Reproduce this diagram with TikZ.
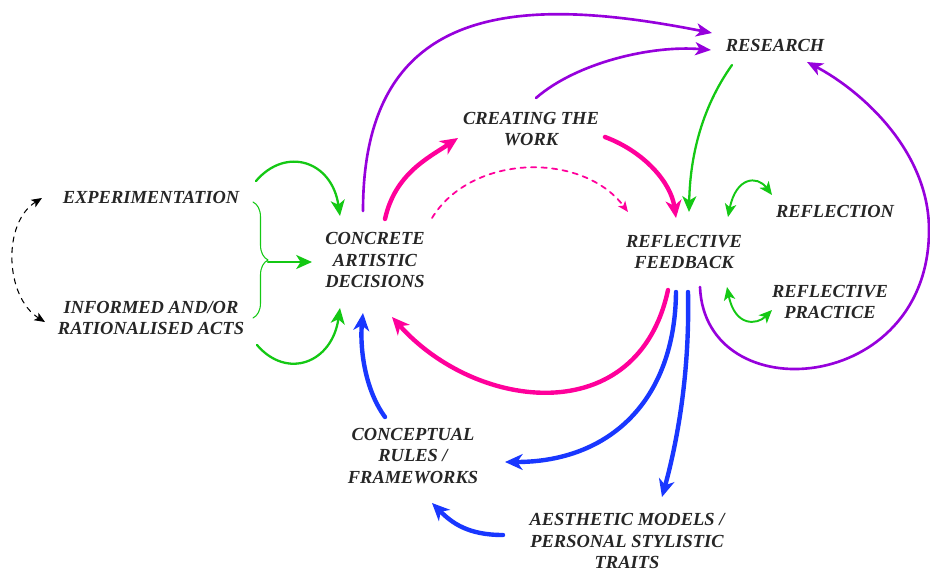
\documentclass[tikz,border=0pt]{standalone}
\usepackage{fontspec}
\setmainfont{Liberation Serif}
\usetikzlibrary{arrows.meta,decorations.pathreplacing}
\definecolor{grn}{RGB}{20,200,20}
\definecolor{mgt}{RGB}{255,0,155}
\definecolor{prp}{RGB}{150,0,220}
\definecolor{blu}{RGB}{25,55,255}

\begin{document}
\begin{tikzpicture}[line cap=round,line join=round,x=0.02cm,y=-0.02cm,
    lbl/.style={font=\fontsize{10.5}{12}\selectfont\bfseries\itshape,text=black!85,align=center,inner sep=0pt},
    garr/.style={grn,line width=1.3pt,-{Stealth[length=9pt,width=8pt,inset=2.5pt]}},
    gboth/.style={grn,line width=1.1pt,{Stealth[length=7.5pt,width=6.5pt,inset=2pt]}-{Stealth[length=7.5pt,width=6.5pt,inset=2pt]}},
    marr/.style={mgt,line width=2.5pt,-{Stealth[length=10pt,width=9pt,inset=3pt]}},
    parr/.style={prp,line width=1.5pt,-{Stealth[length=9pt,width=7.5pt,inset=2.5pt]}},
    barr/.style={blu,line width=2.5pt,-{Stealth[length=10pt,width=9pt,inset=3pt]}}]
  \useasboundingbox (0,0) rectangle (930,572);

  \node[lbl] (exp) at (151,197) {EXPERIMENTATION};
  \node[lbl] (inf) at (151,318) {INFORMED AND/OR\\RATIONALISED ACTS};
  \node[lbl] (cad) at (375,260) {CONCRETE\\ARTISTIC\\DECISIONS};
  \node[lbl] (ctw) at (531,129) {CREATING THE\\WORK};
  \node[lbl] (res) at (775,45) {RESEARCH};
  \node[lbl] (rfb) at (684,252) {REFLECTIVE\\FEEDBACK};
  \node[lbl] (rfl) at (835,211) {REFLECTION};
  \node[lbl] (rfp) at (830,302) {REFLECTIVE\\PRACTICE};
  \node[lbl] (crf) at (413,456) {CONCEPTUAL\\RULES /\\FRAMEWORKS};
  \node[lbl] (amp) at (627,541) {AESTHETIC MODELS /\\PERSONAL STYLISTIC\\TRAITS};

  % left side
  \draw[black,line width=0.6pt,dash pattern=on 3pt off 3pt,{Stealth[length=6pt,width=5pt,inset=1.5pt]}-{Stealth[length=6pt,width=5pt,inset=1.5pt]}]
    ([shift={(-109,1)}]exp.center) .. controls +(-40,25) and +(-40,-25) .. ([shift={(-106,4)}]inf.center);
  \draw[grn,line width=0.6pt,decorate,decoration={brace,amplitude=0.3cm}]
    ([shift={(102,5)}]exp.center) -- ([shift={(102,0)}]inf.center);
  \coordinate (bt) at (268,262);
  \draw[garr] (bt) -- ([shift={(-63,2)}]cad.center);
  \draw[garr] ([shift={(105,-16)}]exp.center) .. controls +(30,-35) and +(-8,-55) .. ([shift={(-35,-44)}]cad.center);
  \draw[garr] ([shift={(106,27)}]inf.center) .. controls +(30,35) and +(-8,55) .. ([shift={(-35,48)}]cad.center);

  % magenta
  \draw[marr] ([shift={(10,-41)}]cad.center) .. controls +(10,-45) and +(-30,20) .. ([shift={(-73,9)}]ctw.center);
  \draw[marr] ([shift={(74,8)}]ctw.center) .. controls +(40,15) and +(-5,-35) .. ([shift={(-8,-34)}]rfb.center);
  \draw[mgt,line width=1pt,dash pattern=on 3pt off 3pt,-{Stealth[length=6pt,width=5pt,inset=1.5pt]}]
    ([shift={(57,-42)}]cad.center) .. controls +(40,-65) and +(-45,-60) .. ([shift={(-56,-40)}]rfb.center);
  \draw[marr] ([shift={(-16,38)}]rfb.center) .. controls +(-30,140) and +(85,95) .. ([shift={(17,57)}]cad.center);

  % purple
  \draw[parr] ([shift={(-12,-49)}]cad.center) .. controls +(0,-210) and +(-192,-38) .. ([shift={(-63,-12)}]res.center);
  \draw[parr] ([shift={(5,-31)}]ctw.center) .. controls +(40,-35) and +(-60,-5) .. ([shift={(-64,5)}]res.center);
  \draw[parr] ([shift={(16,35)}]rfb.center) .. controls +(5,125) and +(0,165) .. ([shift={(99,-72)}]rfp.center)
    .. controls +(0,-80) and +(53,28) .. ([shift={(32,17)}]res.center);

  % green, right
  \draw[garr] ([shift={(-43,20)}]res.center) .. controls +(-32,45) and +(1,-52) .. ([shift={(5,-40)}]rfb.center);
  \draw[gboth] ([shift={(44,-35)}]rfb.center) .. controls +(8,-40) and +(-15,-20) .. ([shift={(-63,-16)}]rfl.center);
  \draw[gboth] ([shift={(43,35)}]rfb.center) .. controls +(8,40) and +(-15,15) .. ([shift={(-58,8)}]rfp.center);

  % blue
  \draw[barr] ([shift={(-8,40)}]rfb.center) .. controls +(-1,108) and +(105,0) .. ([shift={(92,6)}]crf.center);
  \draw[barr] ([shift={(4,40)}]rfb.center) .. controls +(2,88) and +(13,-47) .. ([shift={(35,-44)}]amp.center);
  \draw[barr] ([shift={(-124,-6)}]amp.center) .. controls +(-35,0) and +(20,20) .. ([shift={(19,47)}]crf.center);
  \draw[barr] ([shift={(-28,-39)}]crf.center) .. controls +(-22,-30) and +(-3,30) .. ([shift={(-12,53)}]cad.center);
\end{tikzpicture}
\end{document}
